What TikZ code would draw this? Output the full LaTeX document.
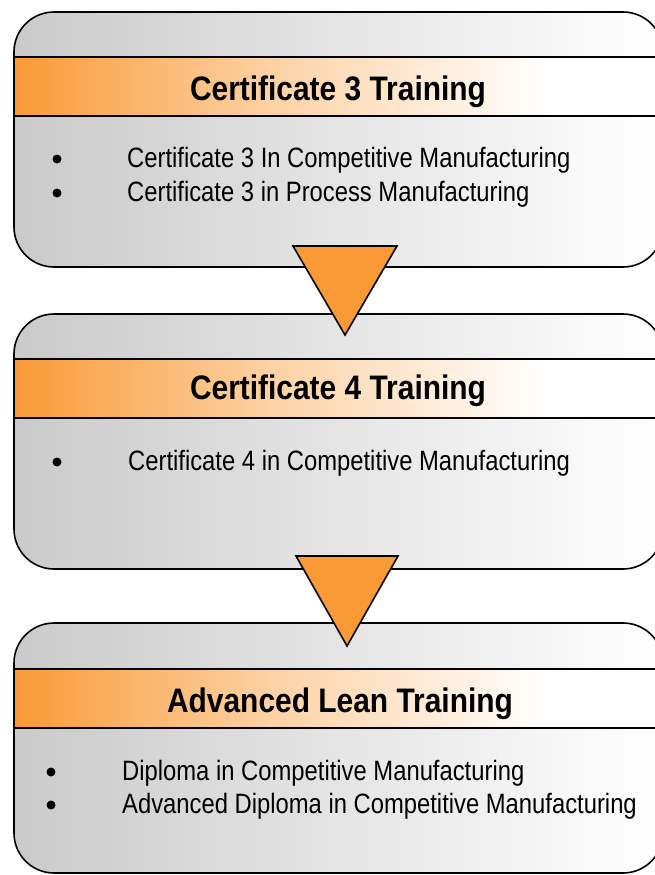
\documentclass[tikz,border=0pt]{standalone}
\usepackage{fontspec}
\setmainfont{Liberation Sans}[FakeStretch=0.85]
\newfontfamily\ttlfont{Liberation Sans}[FakeStretch=0.88]
\definecolor{orng}{RGB}{249,154,54}
\definecolor{boxgray}{RGB}{202,202,202}
\pgfdeclarehorizontalshading{bandshade}{100bp}{color(0bp)=(orng); color(25bp)=(orng); color(45bp)=(orng!45!white); color(66bp)=(white); color(100bp)=(white)}
\tikzset{
  boxfill/.style={left color=boxgray, right color=white},
  boxline/.style={draw=black, line width=1.6pt, rounded corners=40pt},
  bandfill/.style={shading=bandshade},
  bandline/.style={draw=black, line width=1.6pt},
  tri/.style={fill=orng, draw=black, line width=1.6pt, line join=miter},
  title/.style={anchor=base, inner sep=0pt, font=\ttlfont\bfseries\fontsize{34}{40}\selectfont},
  item/.style={anchor=base west, inner sep=0pt, font=\fontsize{28}{32}\selectfont},
  bul/.style={circle, fill=black, inner sep=0pt, minimum size=9pt}
}
\newcommand{\trainbox}[3]{% top, bandtop, bottom
  \path[boxfill, rounded corners=40pt] (14,#1) rectangle (663,#3);
  \path[bandfill] (14,#2) rectangle (663,#2+59);
  \draw[bandline] (14,#2) -- (663,#2);
  \draw[bandline] (14,#2+59) -- (663,#2+59);
  \path[boxline] (14,#1) rectangle (663,#3);
}
\begin{document}
\begin{tikzpicture}[x=1pt,y=-1pt]
\useasboundingbox (0,0) rectangle (655,875);
\clip (0,0) rectangle (655,875);
\fill[white] (0,0) rectangle (655,875);

% Box 1
\trainbox{12}{57}{267}
\node[title] (t1) at (338,100) {Certificate 3 Training};
\node[bul] (b11) at (57,159) {};
\node[item] (i11) at (127,167) {Certificate 3 In Competitive Manufacturing};
\node[bul] (b12) at (57,193) {};
\node[item] (i12) at (127,201) {Certificate 3 in Process Manufacturing};

% Box 2
\trainbox{314}{359}{569}
\node[title] (t2) at (338,399) {Certificate 4 Training};
\node[bul] (b21) at (57,462) {};
\node[item] (i21) at (128,470) {Certificate 4 in Competitive Manufacturing};

% Arrow 1
\draw[tri] (293,246) -- (397,246) -- (345,335) -- cycle;

% Box 3
\trainbox{623}{669}{873}
\node[title] (t3) at (340,712) {Advanced Lean Training};
\node[bul] (b31) at (51,772) {};
\node[item] (i31) at (122,780) {Diploma in Competitive Manufacturing};
\node[bul] (b32) at (51,805) {};
\node[item] (i32) at (122,813) {Advanced Diploma in Competitive Manufacturing};

% Arrow 2
\draw[tri] (296,556) -- (398,556) -- (347,646) -- cycle;
\end{tikzpicture}
\end{document}
